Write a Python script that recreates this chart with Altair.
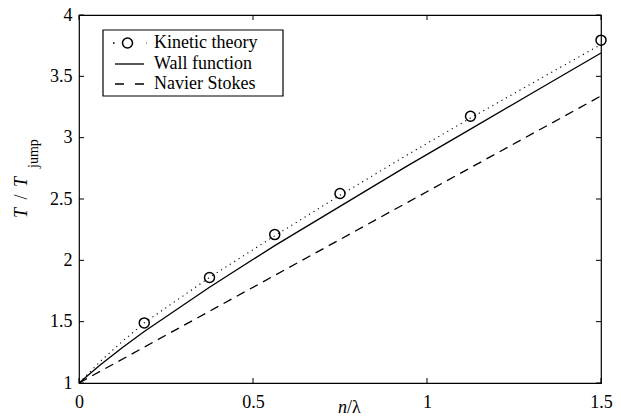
import altair as alt
import pandas as pd

# ---- data ----
kt_x = [0.1875, 0.375, 0.5625, 0.75, 1.125, 1.5]
kt_y = [1.49, 1.86, 2.21, 2.545, 3.175, 3.795]

kt_line_x = [0, 0.0625, 0.125, 0.1875, 0.375, 0.5625, 0.75, 0.9375, 1.125, 1.3125, 1.5]
kt_line_y = [1.0, 1.18, 1.34, 1.49, 1.86, 2.20, 2.53, 2.85, 3.16, 3.46, 3.76]

wf_x = [0, 0.0625, 0.125, 0.1875, 0.375, 0.5625, 0.75, 0.9375, 1.125, 1.3125, 1.5]
wf_y = [1.0, 1.15, 1.29, 1.42, 1.78, 2.12, 2.44, 2.76, 3.07, 3.38, 3.69]

ns_x = [0, 0.375, 0.75, 1.125, 1.5]
ns_y = [1.0, 1.585, 2.17, 2.755, 3.34]

x_ticks = [0, 0.5, 1, 1.5]
y_ticks = [1, 1.5, 2, 2.5, 3, 3.5, 4]

series_names = ["Kinetic theory", "Wall function", "Navier Stokes"]

W, H = 522, 368
FONT = "Liberation Serif"
FS = 18

xs = alt.Scale(domain=[0, 1.5], nice=False, zero=False)
ys = alt.Scale(domain=[1, 4], nice=False, zero=False)

x_axis = alt.Axis(values=x_ticks, format="~g", ticks=False, tickSize=0, grid=False,
                  domain=False, labelFont=FONT, labelFontSize=FS, labelColor="black",
                  labelPadding=10, labelFlush=False, labelOverlap=False, title=None)
y_axis = alt.Axis(values=y_ticks, format="~g", ticks=False, tickSize=0, grid=False,
                  domain=False, labelFont=FONT, labelFontSize=FS, labelColor="black",
                  labelPadding=7, labelFlush=False, labelOverlap=False, title=None)

kt_line_df = pd.DataFrame({"x": kt_line_x, "y": kt_line_y})
kt_df = pd.DataFrame({"x": kt_x, "y": kt_y})
wf_df = pd.DataFrame({"x": wf_x, "y": wf_y})
ns_df = pd.DataFrame({"x": ns_x, "y": ns_y})
xt_df = pd.DataFrame({"x": x_ticks})
yt_df = pd.DataFrame({"y": y_ticks})
one = pd.DataFrame({"a": [0]})

dotted = alt.Chart(kt_line_df).mark_line(color="black", strokeWidth=1.1, strokeDash=[1.2, 4], strokeCap="butt").encode(
    x=alt.X("x:Q", scale=xs, axis=x_axis), y=alt.Y("y:Q", scale=ys, axis=y_axis))
solid = alt.Chart(wf_df).mark_line(color="black", strokeWidth=1.3).encode(
    x=alt.X("x:Q", scale=xs), y=alt.Y("y:Q", scale=ys))
dashed = alt.Chart(ns_df).mark_line(color="black", strokeWidth=1.3, strokeDash=[9, 6]).encode(
    x=alt.X("x:Q", scale=xs), y=alt.Y("y:Q", scale=ys))
points = alt.Chart(kt_df).mark_point(shape="circle", filled=False, color="black", size=100, strokeWidth=1.5, opacity=1).encode(
    x=alt.X("x:Q", scale=xs), y=alt.Y("y:Q", scale=ys))

tk = dict(color="black", strokeWidth=1)
t_bottom = alt.Chart(xt_df).mark_rule(**tk).encode(x=alt.X("x:Q", scale=xs), y=alt.value(H), y2=alt.value(H - 5))
t_top = alt.Chart(xt_df).mark_rule(**tk).encode(x=alt.X("x:Q", scale=xs), y=alt.value(0), y2=alt.value(5))
t_left = alt.Chart(yt_df).mark_rule(**tk).encode(y=alt.Y("y:Q", scale=ys), x=alt.value(0), x2=alt.value(5))
t_right = alt.Chart(yt_df).mark_rule(**tk).encode(y=alt.Y("y:Q", scale=ys), x=alt.value(W), x2=alt.value(W - 5))

# legend
base = alt.Chart(one)
leg_box = base.mark_rect(fill="white", stroke="black", strokeWidth=1.2).encode(
    x=alt.value(24), x2=alt.value(204), y=alt.value(15), y2=alt.value(81))
rows = [28, 49, 69]
leg_dot = base.mark_rule(color="black", strokeWidth=1.6, strokeDash=[1.6, 32], strokeCap="butt").encode(
    x=alt.value(34), x2=alt.value(68), y=alt.value(rows[0]))
leg_circ = base.mark_point(shape="circle", filled=False, color="black", size=100, strokeWidth=1.5, opacity=1).encode(
    x=alt.value(48.5), y=alt.value(rows[0]))
leg_solid = base.mark_rule(color="black", strokeWidth=1.3).encode(
    x=alt.value(36), x2=alt.value(65), y=alt.value(rows[1]))
leg_dash = base.mark_rule(color="black", strokeWidth=1.3, strokeDash=[9, 11]).encode(
    x=alt.value(36), x2=alt.value(65), y=alt.value(rows[2]))
leg_texts = [
    base.mark_text(text=name, font=FONT, fontSize=FS, align="left", baseline="middle", color="black").encode(
        x=alt.value(75), y=alt.value(r))
    for name, r in zip(series_names, rows)
]

# axis titles
tx = dict(font=FONT, color="black")
xt_n = base.mark_text(text="n", fontSize=FS, fontStyle="italic", align="right", baseline="alphabetic", **tx).encode(
    x=alt.value(268), y=alt.value(398))
xt_l = base.mark_text(text="/λ", fontSize=FS, align="left", baseline="alphabetic", **tx).encode(
    x=alt.value(268), y=alt.value(398))
yt_T1 = base.mark_text(text="T", fontSize=FS, fontStyle="italic", angle=270, align="left", baseline="alphabetic", **tx).encode(
    x=alt.value(-52), y=alt.value(203))
yt_sl = base.mark_text(text="/", fontSize=FS, angle=270, align="center", baseline="alphabetic", **tx).encode(
    x=alt.value(-52), y=alt.value(182))
yt_T2 = base.mark_text(text="T", fontSize=FS, fontStyle="italic", angle=270, align="left", baseline="alphabetic", **tx).encode(
    x=alt.value(-52), y=alt.value(172))
yt_j = base.mark_text(text="jump", fontSize=14, angle=270, align="left", baseline="alphabetic", **tx).encode(
    x=alt.value(-41), y=alt.value(153))

chart = alt.layer(
    dotted, solid, dashed, points,
    t_bottom, t_top, t_left, t_right,
    leg_box, leg_dot, leg_circ, leg_solid, leg_dash, *leg_texts,
    xt_n, xt_l, yt_T1, yt_sl, yt_T2, yt_j,
).properties(
    width=W, height=H,
    autosize=alt.AutoSizeParams(type="none"),
    padding={"left": 79, "top": 15, "right": 20, "bottom": 35},
    background="white",
).configure_view(stroke="black", strokeWidth=1.2)

chart.save("out.html", embed_options={"renderer": "svg", "actions": False})
